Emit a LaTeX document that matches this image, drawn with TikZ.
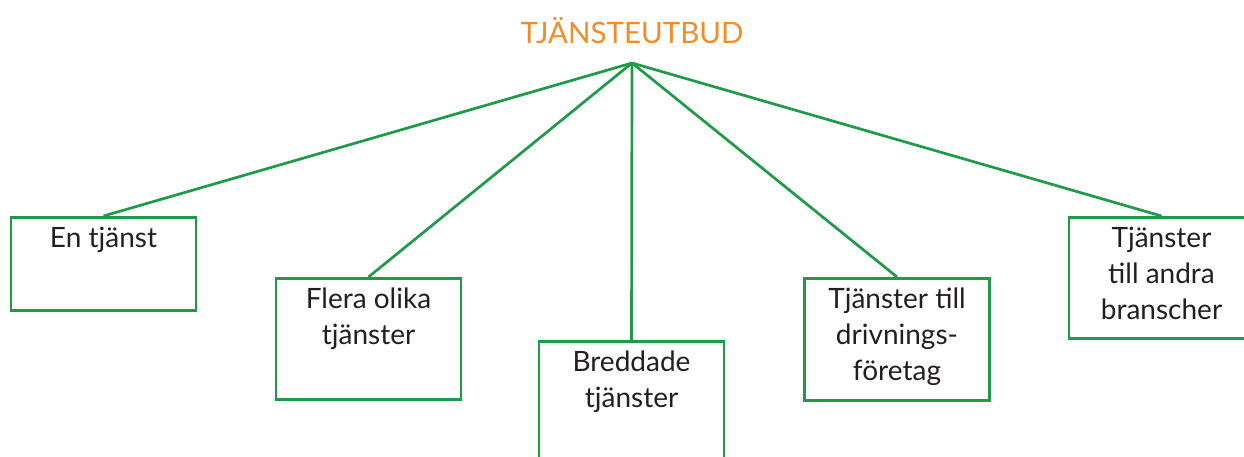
\documentclass[tikz,border=0pt]{standalone}
\usepackage{fontspec}
\setmainfont{Lato}
\definecolor{lgreen}{HTML}{1F9A48}
\definecolor{lorange}{HTML}{F28C28}
\definecolor{ltext}{HTML}{231F20}
\begin{document}
\begin{tikzpicture}[x=1pt,y=-1pt,
  box/.style={draw=lgreen,line width=2.8pt,rectangle,minimum width=185pt,inner sep=0pt,anchor=north},
  lbl/.style={anchor=north,align=center,text=ltext,font=\fontsize{28}{36}\selectfont,inner sep=0pt},
  conn/.style={draw=lgreen,line width=2.7pt}]
\useasboundingbox (0,0) rectangle (1244,457);
\clip (0,0) rectangle (1244,457);
\node[anchor=center,text=lorange,font=\fontsize{29.5}{34}\selectfont,inner sep=0pt] (title) at (632,31) {TJÄNSTEUTBUD};
\coordinate (top) at (632,63);
\node[box,minimum height=93pt] (b1) at (103.5,216) {};
\node[box,minimum height=121pt] (b2) at (368.5,277) {};
\node[box,minimum height=140pt] (b3) at (631.5,340) {};
\node[box,minimum height=122pt] (b4) at (897,277) {};
\node[box,minimum height=121pt] (b5) at (1161.5,216) {};
\node[lbl] (t1) at ([yshift=-11pt]b1.north) {En tjänst};
\node[lbl] (t2) at ([yshift=-11pt]b2.north) {Flera olika\\tjänster};
\node[lbl] (t3) at ([yshift=-11pt]b3.north) {Breddade\\tjänster};
\node[lbl] (t4) at ([yshift=-11pt]b4.north) {Tjänster till\\drivnings-\\företag};
\node[lbl] (t5) at ([yshift=-11pt]b5.north) {Tjänster\\till andra\\branscher};
\draw[conn] (top) -- (b1.north);
\draw[conn] (top) -- (b2.north);
\draw[conn] (top) -- (b3.north);
\draw[conn] (top) -- (b4.north);
\draw[conn] (top) -- (b5.north);
\end{tikzpicture}
\end{document}
